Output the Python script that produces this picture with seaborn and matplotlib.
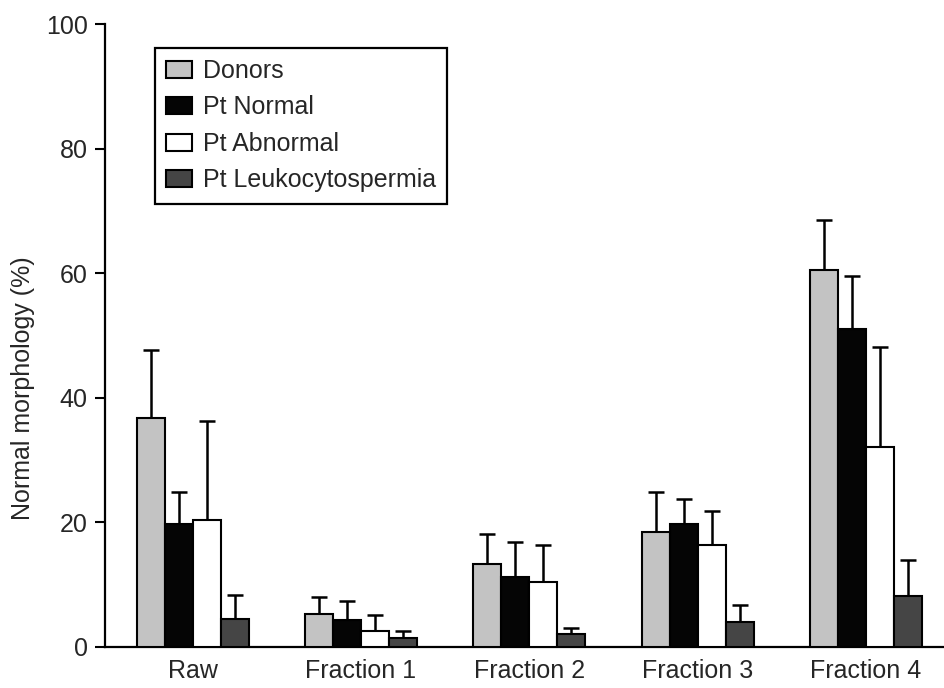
import numpy as np
import pandas as pd
import matplotlib
matplotlib.use("Agg")
import matplotlib.pyplot as plt
import seaborn as sns

# Sample fractions and patient groups
fractions = ["Raw", "Fraction 1", "Fraction 2", "Fraction 3", "Fraction 4"]
groups = ["Donors", "Pt Normal", "Pt Abnormal", "Pt Leukocytospermia"]

# Mean normal morphology (%) per group, in fraction order
donors_mean = [36.7, 5.3, 13.3, 18.5, 60.5]
pt_normal_mean = [19.7, 4.3, 11.3, 19.7, 51.0]
pt_abnormal_mean = [20.4, 2.6, 10.4, 16.3, 32.1]
pt_leuko_mean = [4.5, 1.5, 2.1, 4.0, 8.2]

# Upper error (SD) per group
donors_err = [11.0, 2.8, 4.9, 6.4, 8.1]
pt_normal_err = [5.1, 3.1, 5.6, 4.0, 8.5]
pt_abnormal_err = [15.8, 2.5, 5.9, 5.6, 16.1]
pt_leuko_err = [3.8, 1.1, 1.0, 2.7, 5.8]

y_ticks = [0, 20, 40, 60, 80, 100]

means = [donors_mean, pt_normal_mean, pt_abnormal_mean, pt_leuko_mean]
errs = [donors_err, pt_normal_err, pt_abnormal_err, pt_leuko_err]

rows = []
for g, m_list, e_list in zip(groups, means, errs):
    for f, m, e in zip(fractions, m_list, e_list):
        rows.append({"fraction": f, "group": g, "value": m, "err": e})
df = pd.DataFrame(rows)

sns.set_theme(style="ticks")
plt.rcParams["font.family"] = ["Liberation Sans", "DejaVu Sans"]

palette = {"Donors": "#c3c3c3", "Pt Normal": "#050505",
           "Pt Abnormal": "#ffffff", "Pt Leukocytospermia": "#454545"}

fig = plt.figure(figsize=(9.45, 6.88), dpi=100)
ax = fig.add_axes([0.111, 0.0596, 0.889, 0.9055])

sns.barplot(data=df, x="fraction", y="value", hue="group", order=fractions,
            hue_order=groups, palette=palette, errorbar=None, width=0.665,
            edgecolor="black", linewidth=1.5, saturation=1, ax=ax, zorder=3)

# Upper-only error bars placed on each drawn bar
for container, g in zip(ax.containers, groups):
    sub = df[df["group"] == g].set_index("fraction").loc[fractions]
    xs = [p.get_x() + p.get_width() / 2 for p in container.patches]
    tops = [p.get_height() for p in container.patches]
    up = sub["err"].to_numpy()
    ax.errorbar(xs, tops, yerr=[np.zeros_like(up), up], fmt="none",
                ecolor="black", elinewidth=1.8, capsize=5.5, capthick=1.8,
                zorder=2)

ax.set_ylim(0, 100)
ax.set_xlim(-0.522, 4.47)
ax.set_yticks(y_ticks)
ax.set_yticklabels([str(t) for t in y_ticks])
ax.tick_params(axis="y", length=7.5, width=1.5, labelsize=18, pad=5, color="black")
ax.tick_params(axis="x", length=0, labelsize=18, pad=9)
ax.set_xlabel("")
ax.set_ylabel("Normal morphology (%)", fontsize=18)
ax.yaxis.set_label_coords(-0.083, 0.416)
for side in ["top", "right"]:
    ax.spines[side].set_visible(False)
for side in ["left", "bottom"]:
    ax.spines[side].set_linewidth(1.6)
    ax.spines[side].set_color("black")

leg = ax.legend(loc="upper left", bbox_to_anchor=(0.0595, 0.962), fontsize=18,
                frameon=True, fancybox=False, edgecolor="black",
                handlelength=1.02, handleheight=0.68, handletextpad=0.45,
                labelspacing=0.5, borderpad=0.45, borderaxespad=0)
leg.get_frame().set_linewidth(1.6)
leg.get_frame().set_alpha(1)
for h in leg.legend_handles:
    h.set_edgecolor("black")
    h.set_linewidth(1.5)

fig.savefig("out.png", dpi=100)
